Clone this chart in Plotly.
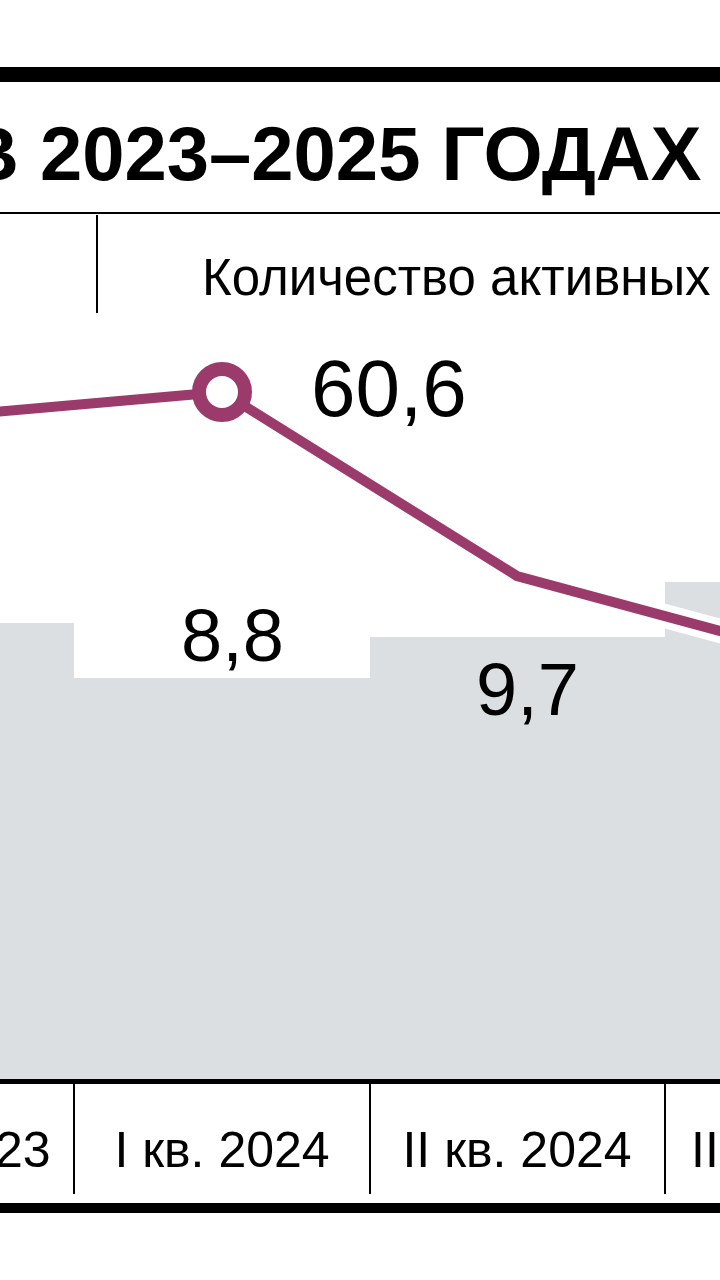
import plotly.graph_objects as go

# quarters, gray bars and the purple line ("Количество активных ...")
quarters = ["IV кв. 2023", "I кв. 2024", "II кв. 2024", "III кв. 2024"]
bar_values = [10.0, 8.8, 9.7, 10.9]
line_values = [59.3, 60.6, 51.4, 47.4]
highlight = 1  # point with the open circle and big label

title = "В 2023–2025 ГОДАХ"
subtitle = "Количество активных"

GRAY = "#dcdfe1"
PURPLE = "#9b3b6b"
FONT = "Liberation Sans, Arial, sans-serif"

W, H = 720, 1280
TOP, BOTTOM = 330, 1079  # plot area in pixels
XRANGE = [0.2475, 2.688]  # only part of the quarters is in view


def py(p):
    # pixel row -> paper y
    return (BOTTOM - p) / (BOTTOM - TOP)


def px(p):
    return p / W


def fmt(v):
    return f"{v:.1f}".replace(".", ",")


fig = go.Figure()
fig.add_trace(go.Bar(x=quarters, y=bar_values, marker_color=GRAY,
                     marker_line_width=0, hoverinfo="skip"))
# white halo under the line
fig.add_trace(go.Scatter(x=quarters, y=line_values, yaxis="y2", mode="lines",
                         line=dict(color="white", width=24), hoverinfo="skip"))
fig.add_trace(go.Scatter(x=quarters, y=line_values, yaxis="y2", mode="lines",
                         line=dict(color=PURPLE, width=10)))
fig.add_trace(go.Scatter(
    x=[quarters[highlight]], y=[line_values[highlight]], yaxis="y2", mode="markers",
    marker=dict(size=46, color="white", opacity=1,
                line=dict(color=PURPLE, width=14)),
))

annotations = [
    dict(text=title, x=px(704), y=py(153), xref="paper", yref="paper",
         xanchor="right", yanchor="middle", showarrow=False,
         font=dict(family=FONT, size=76, color="black", weight="bold")),
    dict(text=subtitle, x=px(200), y=py(277), xref="paper", yref="paper",
         xanchor="left", yanchor="middle", showarrow=False,
         font=dict(family=FONT, size=51, color="black")),
    dict(text=fmt(line_values[highlight]),
         x=quarters[highlight], y=line_values[highlight], xref="x", yref="y2",
         xshift=167, yshift=4, showarrow=False,
         font=dict(family=FONT, size=80, color="black")),
    dict(text=fmt(bar_values[1]),
         x=quarters[1], y=bar_values[1], xref="x", yref="y",
         xshift=10, yshift=42, showarrow=False,
         font=dict(family=FONT, size=74, color="black")),
    dict(text=fmt(bar_values[2]),
         x=quarters[2], y=bar_values[2], xref="x", yref="y",
         xshift=10, yshift=-53, showarrow=False,
         font=dict(family=FONT, size=74, color="black")),
]

# category labels whose centre lies outside the visible range are cut by the
# page edge; plotly does not draw those tick labels, so add them by hand
for i, q in enumerate(quarters):
    frac = (i - XRANGE[0]) / (XRANGE[1] - XRANGE[0])
    if frac < 0 or frac > 1:
        annotations.append(dict(
            text=q, x=frac, y=py(1150), xref="paper", yref="paper",
            xanchor="center", yanchor="middle", showarrow=False,
            font=dict(family=FONT, size=50, color="black")))

shapes = [
    dict(type="rect", xref="paper", yref="paper", x0=0, x1=1, y0=py(82), y1=py(67),
         fillcolor="black", line_width=0),
    dict(type="line", xref="paper", yref="paper", x0=0, x1=1, y0=py(213), y1=py(213),
         line=dict(color="black", width=2)),
    dict(type="line", xref="paper", yref="paper", x0=px(97), x1=px(97),
         y0=py(215), y1=py(313), line=dict(color="black", width=2)),
    dict(type="rect", xref="paper", yref="paper", x0=0, x1=1, y0=py(1213), y1=py(1203),
         fillcolor="black", line_width=0),
]

fig.update_layout(
    width=W, height=H,
    margin=dict(l=0, r=0, t=TOP, b=H - BOTTOM),
    paper_bgcolor="white", plot_bgcolor="white",
    showlegend=False, bargap=0,
    xaxis=dict(type="category", range=XRANGE, showgrid=False,
               showline=True, linecolor="black", linewidth=5,
               ticks="outside", tickson="boundaries", ticklen=110,
               tickwidth=2, tickcolor="black",
               tickfont=dict(family=FONT, size=50, color="black"),
               ticklabelstandoff=23),
    yaxis=dict(range=[0, 16.43], visible=False, fixedrange=True),
    yaxis2=dict(range=[26.25, 63.7], overlaying="y", visible=False),
    annotations=annotations,
    shapes=shapes,
)

fig.write_html("out.html", config={"displayModeBar": False},
               post_script="document.body.style.margin='0';")
